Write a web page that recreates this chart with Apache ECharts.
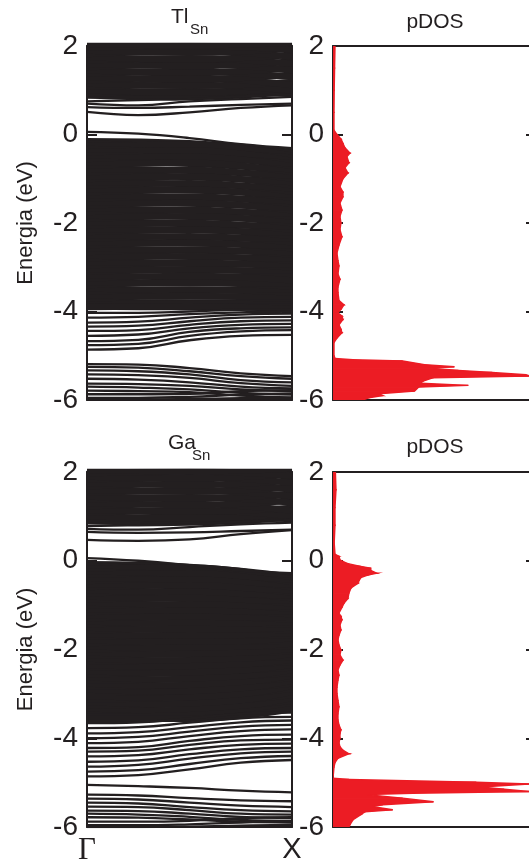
<!DOCTYPE html>
<html><head><meta charset="utf-8">
<script src="https://cdn.jsdelivr.net/npm/echarts@6/dist/echarts.min.js"></script>
<style>html,body{margin:0;padding:0;background:#fff}#c{width:529px;height:864px}</style>
</head><body><div id="c"></div>
<script>
// ---------- DATA ----------
const kPath = ['Γ', 'X'];
const energyTicks = [2, 0, -2, -4, -6];
const kPoints3 = [0, 0.5, 1];
const kPoints5 = [0, 0.25, 0.5, 0.75, 1];

// Tl_Sn band structure (eV), sampled at Γ ... X
const tlConductionEdge = [
  [0.51, 0.44, 0.50, 0.60, 0.66],
  [0.62, 0.60, 0.63, 0.67, 0.70],
  [0.70, 0.66, 0.75, 0.80, 0.85],
  [0.75, 0.78, 0.80, 0.86, 0.90]
];
const tlConductionDense = [
  [0.88,0.85,0.97],[0.92,0.98,0.92],[1.00,0.95,1.05],[1.08,1.12,1.00],[1.15,1.10,1.18],
  [1.22,1.28,1.12],[1.30,1.25,1.35],[1.38,1.42,1.30],[1.45,1.40,1.50],[1.52,1.58,1.46],
  [1.60,1.55,1.65],[1.68,1.72,1.60],[1.75,1.70,1.80],[1.82,1.88,1.76],[1.90,1.85,1.95],
  [1.97,2.00,1.92],[2.05,2.02,2.08]
];
const tlValenceTop = [[0.06, 0.02, -0.08, -0.22, -0.31]];
const tlValenceDense = [
  [-0.15,-0.20,-0.40],[-0.20,-0.30,-0.40],[-0.26,-0.24,-0.48],[-0.33,-0.40,-0.52],[-0.40,-0.36,-0.60],
  [-0.48,-0.52,-0.65],[-0.55,-0.50,-0.72],[-0.62,-0.66,-0.80],[-0.70,-0.64,-0.86],[-0.78,-0.82,-0.93],
  [-0.85,-0.80,-1.00],[-0.92,-0.96,-1.08],[-1.00,-0.95,-1.15],[-1.08,-1.12,-1.22],[-1.15,-1.10,-1.30],
  [-1.22,-1.26,-1.36],[-1.30,-1.25,-1.44],[-1.38,-1.42,-1.50],[-1.45,-1.40,-1.58],[-1.52,-1.56,-1.65],
  [-1.60,-1.55,-1.72],[-1.68,-1.72,-1.80],[-1.75,-1.70,-1.86],[-1.82,-1.86,-1.94],[-1.90,-1.85,-2.00],
  [-1.98,-2.02,-2.08],[-2.05,-2.00,-2.15],[-2.12,-2.16,-2.22],[-2.20,-2.15,-2.30],[-2.28,-2.32,-2.36],
  [-2.35,-2.30,-2.44],[-2.42,-2.46,-2.50],[-2.50,-2.45,-2.58],[-2.58,-2.62,-2.65],[-2.65,-2.60,-2.72],
  [-2.72,-2.76,-2.80],[-2.80,-2.75,-2.86],[-2.88,-2.92,-2.94],[-2.95,-2.90,-3.00],[-3.02,-3.06,-3.08],
  [-3.10,-3.05,-3.15],[-3.18,-3.22,-3.22],[-3.25,-3.20,-3.30],[-3.32,-3.36,-3.36],[-3.40,-3.35,-3.44],
  [-3.48,-3.52,-3.50],[-3.55,-3.50,-3.58],[-3.62,-3.66,-3.65],[-3.70,-3.65,-3.72],[-3.78,-3.80,-3.80],
  [-3.85,-3.82,-3.86],[-3.88,-3.90,-3.90],[-3.90,-3.88,-3.95]
];
const tlLower = [
  [-4.03,-4.03,-4.00,-3.96,-3.95],[-4.14,-4.12,-4.06,-4.02,-4.00],[-4.25,-4.23,-4.14,-4.07,-4.05],
  [-4.34,-4.32,-4.22,-4.14,-4.12],[-4.44,-4.42,-4.30,-4.22,-4.20],[-4.55,-4.52,-4.38,-4.30,-4.28],
  [-4.67,-4.64,-4.46,-4.38,-4.36],[-4.76,-4.73,-4.55,-4.45,-4.42],[-4.86,-4.83,-4.65,-4.55,-4.53]
];
const tlSemicore = [
  [-5.19,-5.20,-5.28,-5.40,-5.46],[-5.25,-5.27,-5.35,-5.46,-5.52],[-5.33,-5.35,-5.42,-5.55,-5.60],
  [-5.42,-5.44,-5.50,-5.62,-5.68],[-5.52,-5.54,-5.60,-5.70,-5.74],[-5.63,-5.64,-5.68,-5.76,-5.80],
  [-5.70,-5.72,-5.76,-5.84,-5.88],[-5.79,-5.80,-5.82,-5.90,-5.94],[-5.87,-5.87,-5.86,-5.80,-5.78],
  [-5.95,-5.95,-5.93,-5.88,-5.85],[-5.99,-5.99,-5.98,-5.96,-5.95]
];

// Ga_Sn band structure (eV)
const gaConductionEdge = [
  [0.47, 0.45, 0.48, 0.60, 0.69],
  [0.65, 0.63, 0.64, 0.67, 0.70],
  [0.72, 0.70, 0.76, 0.82, 0.86],
  [0.78, 0.80, 0.82, 0.88, 0.92]
];
const gaConductionDense = [
  [0.89,0.87,0.98],[0.93,0.99,0.94],[1.01,0.96,1.06],[1.08,1.13,1.01],[1.15,1.11,1.19],
  [1.23,1.28,1.13],[1.30,1.26,1.36],[1.38,1.43,1.31],[1.45,1.41,1.51],[1.53,1.58,1.46],
  [1.60,1.56,1.66],[1.68,1.73,1.61],[1.75,1.71,1.81],[1.83,1.88,1.76],[1.90,1.86,1.96],
  [1.97,2.01,1.92],[2.05,2.02,2.08]
];
const gaValenceTop = [[0.06, 0.00, -0.10, -0.22, -0.28]];
const gaValenceDense = [
  [-0.08,-0.14,-0.36],[-0.12,-0.22,-0.38],[-0.18,-0.16,-0.42],[-0.25,-0.32,-0.46],[-0.32,-0.28,-0.52],
  [-0.39,-0.44,-0.57],[-0.46,-0.42,-0.63],[-0.53,-0.58,-0.69],[-0.60,-0.55,-0.75],[-0.67,-0.72,-0.81],
  [-0.74,-0.70,-0.87],[-0.81,-0.86,-0.93],[-0.88,-0.84,-0.99],[-0.95,-1.00,-1.05],[-1.02,-0.98,-1.11],
  [-1.09,-1.14,-1.17],[-1.16,-1.12,-1.23],[-1.23,-1.28,-1.29],[-1.30,-1.26,-1.35],[-1.37,-1.42,-1.41],
  [-1.44,-1.40,-1.47],[-1.51,-1.56,-1.53],[-1.58,-1.54,-1.59],[-1.65,-1.70,-1.65],[-1.72,-1.68,-1.71],
  [-1.79,-1.84,-1.77],[-1.86,-1.82,-1.83],[-1.93,-1.98,-1.89],[-2.00,-1.96,-1.95],[-2.07,-2.12,-2.01],
  [-2.14,-2.10,-2.07],[-2.21,-2.26,-2.13],[-2.28,-2.24,-2.19],[-2.35,-2.40,-2.25],[-2.42,-2.38,-2.31],
  [-2.49,-2.54,-2.37],[-2.56,-2.52,-2.43],[-2.63,-2.68,-2.49],[-2.70,-2.66,-2.55],[-2.77,-2.82,-2.61],
  [-2.84,-2.80,-2.67],[-2.91,-2.96,-2.73],[-2.98,-2.94,-2.79],[-3.05,-3.10,-2.85],[-3.12,-3.08,-2.91],
  [-3.19,-3.24,-2.97],[-3.26,-3.22,-3.03],[-3.33,-3.38,-3.10],[-3.40,-3.36,-3.17],[-3.47,-3.52,-3.24],
  [-3.52,-3.48,-3.30],[-3.56,-3.56,-3.34]
];
const gaLower = [
  [-3.66,-3.64,-3.55,-3.45,-3.42],[-3.77,-3.75,-3.65,-3.55,-3.52],[-3.89,-3.86,-3.75,-3.64,-3.60],
  [-4.00,-3.97,-3.85,-3.74,-3.70],[-4.11,-4.08,-3.95,-3.84,-3.80],[-4.22,-4.20,-4.06,-3.95,-3.92],
  [-4.30,-4.28,-4.15,-4.05,-4.03],[-4.41,-4.38,-4.25,-4.15,-4.12],[-4.53,-4.50,-4.36,-4.25,-4.22],
  [-4.64,-4.60,-4.46,-4.34,-4.30],[-4.75,-4.72,-4.58,-4.45,-4.40],[-4.86,-4.83,-4.70,-4.55,-4.49]
];
const gaSemicore = [
  [-5.05,-5.08,-5.12,-5.18,-5.22],
  [-5.27,-5.29,-5.35,-5.40,-5.42],[-5.36,-5.38,-5.45,-5.52,-5.55],[-5.45,-5.47,-5.55,-5.62,-5.65],
  [-5.54,-5.55,-5.62,-5.70,-5.72],[-5.63,-5.64,-5.70,-5.77,-5.80],[-5.70,-5.72,-5.77,-5.84,-5.86],
  [-5.78,-5.79,-5.83,-5.88,-5.90],[-5.88,-5.88,-5.86,-5.80,-5.78],[-5.96,-5.96,-5.94,-5.90,-5.88],
  [-6.00,-6.00,-5.99,-5.97,-5.95]
];

// pDOS (energy in eV, DOS in arbitrary units)
const tlDosEnergy = [2.0,1.5,1.0,0.5,0.1,0.0,-0.1,-0.2,-0.3,-0.42,-0.5,-0.64,-0.75,-0.87,-1.0,-1.18,-1.3,-1.41,-1.55,-1.71,-1.85,-2.0,-2.15,-2.31,-2.5,-2.68,-2.85,-2.97,-3.15,-3.27,-3.45,-3.57,-3.75,-3.85,-3.95,-4.03,-4.1,-4.18,-4.3,-4.4,-4.48,-4.6,-4.7,-5.0,-5.06,-5.09,-5.12,-5.2,-5.25,-5.28,-5.33,-5.38,-5.43,-5.46,-5.5,-5.58,-5.62,-5.67,-5.71,-5.8,-5.86,-5.9,-5.95,-6.0];
const tlDosValue  = [0.1,0.08,0.06,0.05,0.05,0.2,0.4,0.5,0.6,0.85,0.7,0.8,0.6,0.75,0.5,0.35,0.5,0.5,0.35,0.45,0.35,0.4,0.35,0.45,0.3,0.2,0.25,0.3,0.25,0.35,0.25,0.25,0.3,0.55,0.4,0.25,0.45,0.5,0.3,0.4,0.45,0.2,0.05,0.05,0.1,1.0,3.5,4.6,6.1,4.9,6.3,8.0,9.7,9.9,5.0,4.5,4.4,6.8,4.3,4.1,2.3,2.5,1.8,1.5];
const gaDosEnergy = [2.0,1.6,1.2,0.8,0.4,0.15,0.1,0.02,-0.06,-0.12,-0.17,-0.22,-0.28,-0.33,-0.38,-0.45,-0.51,-0.58,-0.62,-0.73,-0.85,-0.96,-1.05,-1.18,-1.25,-1.33,-1.45,-1.56,-1.68,-1.78,-1.9,-2.01,-2.12,-2.24,-2.35,-2.46,-2.58,-2.69,-2.85,-2.99,-3.15,-3.29,-3.45,-3.59,-3.7,-3.81,-3.9,-4.0,-4.1,-4.19,-4.27,-4.35,-4.45,-4.55,-4.65,-4.9,-4.93,-4.99,-5.03,-5.1,-5.15,-5.2,-5.24,-5.27,-5.35,-5.43,-5.5,-5.54,-5.61,-5.66,-5.72,-5.84,-5.95,-6.0];
const gaDosValue  = [0.12,0.15,0.1,0.1,0.06,0.1,0.3,0.35,0.7,1.3,1.9,1.9,2.2,1.7,1.4,1.3,1.25,1.0,0.9,0.8,0.75,0.55,0.45,0.3,0.4,0.45,0.35,0.4,0.3,0.25,0.3,0.4,0.35,0.5,0.35,0.25,0.3,0.25,0.2,0.2,0.25,0.3,0.25,0.25,0.3,0.4,0.35,0.35,0.3,0.35,0.5,0.8,0.25,0.1,0.05,0.0,0.8,7.2,9.9,7.4,8.6,9.9,4.0,1.7,3.5,5.05,2.5,2.0,3.0,1.6,1.4,1.0,0.85,0.8];

// ---------- CHART ----------
const ink = '#231f20';
const red = '#ec1c24';
const font = '"Liberation Sans", Arial, Helvetica, sans-serif';
const chart = echarts.init(document.getElementById('c'), null, {renderer: 'canvas'});

const grids = [
  {left: 87, top: 46, width: 205, height: 354},
  {left: 333, top: 46, width: 199, height: 354},
  {left: 87, top: 472, width: 205, height: 355},
  {left: 333, top: 472, width: 199, height: 355}
].map(g => Object.assign({outerBoundsMode: 'none', containLabel: false}, g));

const frameLine = {show: true, onZero: false, lineStyle: {color: ink, width: 2}};
const xAxes = [], yAxes = [];
grids.forEach((g, i) => {
  const isBand = i % 2 === 0;
  const isBottom = i === 2;
  xAxes.push({
    type: 'value', gridIndex: i, position: 'bottom',
    min: 0, max: isBand ? 1 : 10, interval: isBand ? 1 : 10,
    axisLine: frameLine, axisTick: {show: false}, splitLine: {show: false},
    axisLabel: (isBand && isBottom) ? {
      show: true, showMinLabel: true, showMaxLabel: true, margin: 8,
      formatter: v => v === 0 ? '{g|' + kPath[0] + '}' : '{x|' + kPath[1] + '}',
      rich: {
        g: {fontFamily: '"Liberation Serif", "Times New Roman", serif', fontSize: 31, color: ink},
        x: {fontFamily: font, fontSize: 29, color: ink}
      }
    } : {show: false}
  });
  xAxes.push({
    type: 'value', gridIndex: i, position: 'top', min: 0, max: isBand ? 1 : 10,
    axisLine: frameLine, axisTick: {show: false}, axisLabel: {show: false}, splitLine: {show: false}
  });
  yAxes.push({
    type: 'value', gridIndex: i, position: 'left', min: -6, max: 2, interval: 2,
    axisLine: frameLine,
    axisTick: {show: true, inside: true, length: 10, lineStyle: {color: ink, width: 2}},
    axisLabel: {show: true, color: ink, fontSize: 28, fontFamily: font, margin: 9},
    splitLine: {show: false},
    name: isBand ? 'Energia (eV)' : '', nameLocation: 'middle', nameGap: 50, nameRotate: 90,
    nameTextStyle: {color: ink, fontSize: 22, fontFamily: font}
  });
  yAxes.push({
    type: 'value', gridIndex: i, position: 'right', min: -6, max: 2, interval: 2,
    axisLine: frameLine,
    axisTick: {show: true, inside: true, length: isBand ? 10 : 6, lineStyle: {color: ink, width: 2}},
    axisLabel: {show: false}, splitLine: {show: false}
  });
});

const series = [];
function addBands(bands, gi, width) {
  bands.forEach(b => {
    const ks = b.length === 3 ? kPoints3 : kPoints5;
    series.push({
      type: 'line', xAxisIndex: gi * 2, yAxisIndex: gi * 2,
      data: b.map((e, j) => [ks[j], e]),
      smooth: 0.45, symbol: 'none', showSymbol: false, silent: true, clip: true,
      lineStyle: {color: ink, width: width}
    });
  });
}
addBands(tlConductionDense, 0, 6.5); addBands(tlValenceDense, 0, 6.5);
[tlConductionEdge, tlValenceTop, tlLower, tlSemicore].forEach(b => addBands(b, 0, 2.3));
addBands(gaConductionDense, 2, 6.5); addBands(gaValenceDense, 2, 6.5);
[gaConductionEdge, gaValenceTop, gaLower, gaSemicore].forEach(b => addBands(b, 2, 2.3));

function addDos(energies, values, gi) {
  const segs = [];
  for (let j = 0; j < energies.length - 1; j++) segs.push([energies[j], values[j], energies[j + 1], values[j + 1]]);
  series.push({
    type: 'custom', xAxisIndex: gi * 2, yAxisIndex: gi * 2, data: segs, clip: true, silent: true,
    encode: {x: [1, 3], y: [0, 2]},
    renderItem: (params, api) => {
      const e0 = api.value(0), d0 = api.value(1), e1 = api.value(2), d1 = api.value(3);
      return {
        type: 'polygon',
        shape: {points: [api.coord([0, e0]), api.coord([d0, e0]), api.coord([d1, e1]), api.coord([0, e1])]},
        style: {fill: red, stroke: red, lineWidth: 1.4, lineJoin: 'miter'}
      };
    }
  });
}
addDos(tlDosEnergy, tlDosValue, 1);
addDos(gaDosEnergy, gaDosValue, 3);

function txt(text, x, y, size, align) {
  return {type: 'text', x, y, style: {text, fontSize: size, fontFamily: font, fill: ink, align: align || 'left', verticalAlign: 'top'}};
}

chart.setOption({
  animation: false,
  backgroundColor: '#fff',
  grid: grids, xAxis: xAxes, yAxis: yAxes, series,
  graphic: [
    txt('Tl', 171, 7, 21), txt('Sn', 190, 22, 15),
    txt('pDOS', 435, 12, 21, 'center'),
    txt('Ga', 168, 433, 21), txt('Sn', 192, 448, 15),
    txt('pDOS', 435, 437, 21, 'center')
  ]
});
</script></body></html>
